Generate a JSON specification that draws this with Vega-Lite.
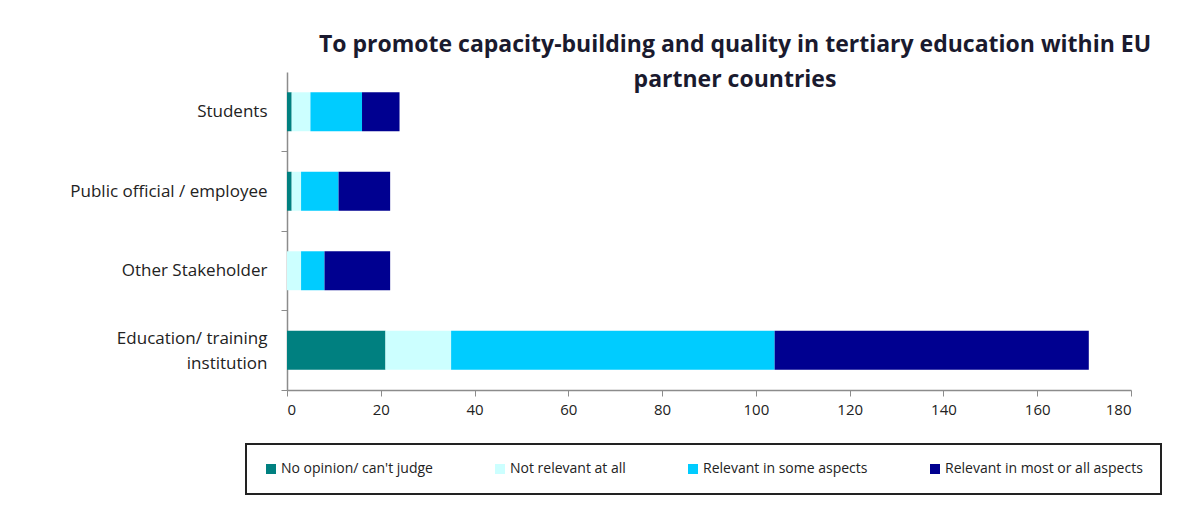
{
  "$schema": "https://vega.github.io/schema/vega-lite/v6.json",
  "width": 844,
  "height": 318,
  "autosize": {"type": "none"},
  "padding": {"left": 287, "top": 72, "right": 57, "bottom": 115},
  "background": "white",
  "title": {
    "text": ["To promote capacity-building and quality in tertiary education  within EU", "partner countries"],
    "anchor": "middle",
    "baseline": "top",
    "dx": 26,
    "dy": 20,
    "offset": 0,
    "font": "Open Sans",
    "fontSize": 23,
    "fontWeight": "bold",
    "lineHeight": 35,
    "color": "#1a1a2e"
  },
  "data": {
    "values": [
      {"group": "Students", "response": "No opinion/ can't judge", "rank": 1, "count": 1},
      {"group": "Students", "response": "Not relevant at all", "rank": 2, "count": 4},
      {"group": "Students", "response": "Relevant in some aspects", "rank": 3, "count": 11},
      {"group": "Students", "response": "Relevant in most or all aspects", "rank": 4, "count": 8},
      {"group": "Public official / employee", "response": "No opinion/ can't judge", "rank": 1, "count": 1},
      {"group": "Public official / employee", "response": "Not relevant at all", "rank": 2, "count": 2},
      {"group": "Public official / employee", "response": "Relevant in some aspects", "rank": 3, "count": 8},
      {"group": "Public official / employee", "response": "Relevant in most or all aspects", "rank": 4, "count": 11},
      {"group": "Other Stakeholder", "response": "No opinion/ can't judge", "rank": 1, "count": 0},
      {"group": "Other Stakeholder", "response": "Not relevant at all", "rank": 2, "count": 3},
      {"group": "Other Stakeholder", "response": "Relevant in some aspects", "rank": 3, "count": 5},
      {"group": "Other Stakeholder", "response": "Relevant in most or all aspects", "rank": 4, "count": 14},
      {"group": "Education/ training institution", "response": "No opinion/ can't judge", "rank": 1, "count": 21},
      {"group": "Education/ training institution", "response": "Not relevant at all", "rank": 2, "count": 14},
      {"group": "Education/ training institution", "response": "Relevant in some aspects", "rank": 3, "count": 69},
      {"group": "Education/ training institution", "response": "Relevant in most or all aspects", "rank": 4, "count": 67}
    ]
  },
  "mark": {"type": "bar"},
  "encoding": {
    "y": {
      "field": "group",
      "type": "nominal",
      "sort": ["Students", "Public official / employee", "Other Stakeholder", "Education/ training institution"],
      "scale": {"paddingInner": 0.51, "paddingOuter": 0.255},
      "axis": {
        "title": null,
        "domainColor": "#8c8c8c",
        "domainWidth": 1.5,
        "tickColor": "#8c8c8c",
        "tickOffset": 39.75,
        "labelOffset": {"condition": {"test": "datum.value == 'Education/ training institution'", "value": -52}, "value": -39.75},
        "tickSize": 6,
        "labelPadding": 14,
        "labelFont": "Open Sans",
        "labelFontSize": 17,
        "labelColor": "#222222",
        "labelLimit": 300,
        "labelLineHeight": 25,
        "labelExpr": "datum.label == 'Education/ training institution' ? ['Education/ training', 'institution'] : datum.label"
      }
    },
    "x": {
      "field": "count",
      "type": "quantitative",
      "stack": "zero",
      "scale": {"domain": [0, 180], "nice": false},
      "axis": {
        "title": null,
        "values": [0, 20, 40, 60, 80, 100, 120, 140, 160, 180],
        "grid": false,
        "domainColor": "#8c8c8c",
        "domainWidth": 1.5,
        "tickColor": "#8c8c8c",
        "tickSize": 6,
        "labelPadding": 6,
        "labelFont": "Open Sans",
        "labelFontSize": 15,
        "labelColor": "#222222"
      }
    },
    "order": {"field": "rank", "type": "quantitative"},
    "color": {
      "field": "response",
      "type": "nominal",
      "scale": {
        "domain": ["No opinion/ can't judge", "Not relevant at all", "Relevant in some aspects", "Relevant in most or all aspects"],
        "range": ["#008080", "#ccffff", "#00ccff", "#000090"]
      },
      "legend": {
        "title": null,
        "orient": "none",
        "legendX": -41,
        "legendY": 372,
        "direction": "horizontal",
        "columns": 4,
        "symbolType": "square",
        "symbolSize": 100,
        "symbolStrokeWidth": 0,
        "labelFont": "Open Sans",
        "labelFontSize": 14,
        "labelColor": "#222222",
        "labelOffset": 3,
        "labelLimit": 300,
        "columnPadding": 60,
        "padding": 18,
        "strokeColor": "#222222",
        "encode": {"legend": {"update": {"strokeWidth": {"value": 2}}}}
      }
    }
  },
  "config": {
    "view": {"stroke": null}
  }
}
